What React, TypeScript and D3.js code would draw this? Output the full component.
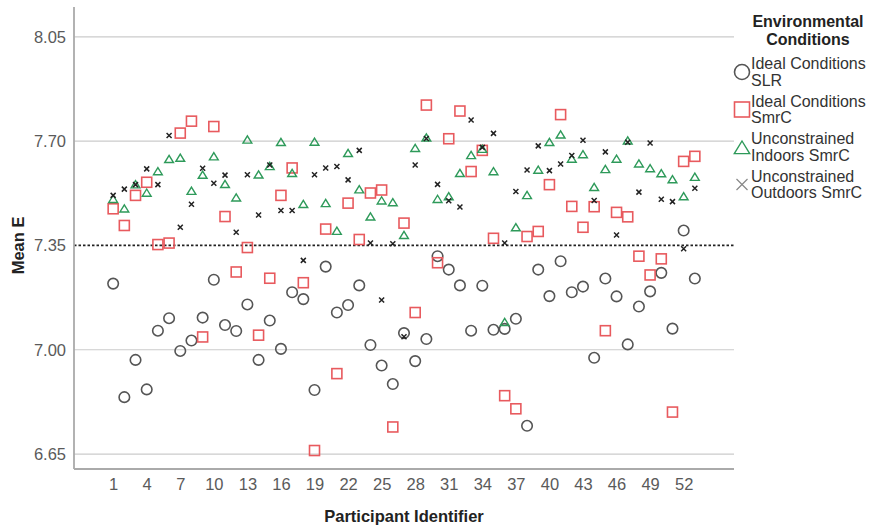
import React, { useEffect, useRef } from "react";
import * as d3 from "d3";

const participants = d3.range(1, 54);
const xTickLabels = [1, 4, 7, 10, 13, 16, 19, 22, 25, 28, 31, 34, 37, 40, 43, 46, 49, 52];
const yTickLabels = [6.65, 7.0, 7.35, 7.7, 8.05];
const referenceLine = 7.35;

const idealSLR = [
  7.222, 6.841, 6.966, 6.867, 7.064, 7.106, 6.996, 7.031, 7.108, 7.235,
  7.083, 7.063, 7.152, 6.966, 7.098, 7.003, 7.193, 7.17, 6.865, 7.279,
  7.125, 7.15, 7.216, 7.016, 6.947, 6.885, 7.056, 6.962, 7.036, 7.314,
  7.269, 7.216, 7.064, 7.215, 7.067, 7.07, 7.104, 6.745, 7.269, 7.18,
  7.297, 7.193, 7.212, 6.973, 7.239, 7.179, 7.018, 7.145, 7.196, 7.258,
  7.071, 7.4, 7.239,
];

const idealSmrC = [
  7.473, 7.417, 7.518, 7.562, 7.353, 7.358, 7.727, 7.767, 7.043, 7.749,
  7.447, 7.261, 7.343, 7.049, 7.24, 7.518, 7.61, 7.225, 6.662, 7.405,
  6.92, 7.492, 7.37, 7.526, 7.536, 6.741, 7.425, 7.125, 7.821, 7.292,
  7.708, 7.801, 7.598, 7.669, 7.374, 6.846, 6.802, 7.38, 7.397, 7.554,
  7.789, 7.481, 7.411, 7.48, 7.064, 7.461, 7.446, 7.314, 7.251, 7.305,
  6.791, 7.632, 7.649,
];

const indoorsSmrC = [
  7.505, 7.473, 7.554, 7.526, 7.598, 7.639, 7.643, 7.532, 7.586, 7.648,
  7.555, 7.51, 7.704, 7.587, 7.615, 7.696, 7.592, 7.488, 7.697, 7.491,
  7.398, 7.659, 7.537, 7.446, 7.5, 7.494, 7.384, 7.676, 7.711, 7.505,
  7.514, 7.592, 7.652, 7.673, 7.598, 7.092, 7.41, 7.518, 7.603, 7.696,
  7.721, 7.64, 7.655, 7.545, 7.605, 7.64, 7.701, 7.624, 7.608, 7.591,
  7.571, 7.514, 7.579,
];

const outdoorsSmrC = [
  7.518, 7.539, 7.554, 7.607, 7.554, 7.719, 7.411, 7.488, 7.609, 7.559,
  7.586, 7.394, 7.587, 7.452, 7.62, 7.467, 7.467, 7.3, 7.587, 7.61,
  7.615, 7.57, 7.669, 7.358, 7.167, 7.356, 7.044, 7.62, 7.709, 7.555,
  7.5, 7.479, 7.771, 7.679, 7.726, 7.358, 7.531, 7.603, 7.684, 7.601,
  7.623, 7.652, 7.703, 7.501, 7.664, 7.385, 7.696, 7.529, 7.694, 7.505,
  7.497, 7.339, 7.542,
];

const seriesNames = [
  ["Ideal Conditions", "SLR"],
  ["Ideal Conditions", "SmrC"],
  ["Unconstrained", "Indoors SmrC"],
  ["Unconstrained", "Outdoors SmrC"],
];

const FONT = "'Liberation Sans', Arial, sans-serif";
const W = 880;
const H = 530;
const left = 74;
const right = 734;
const top = 7;
const bottom = 469;

const drawMarker = (g, kind, size) => {
  if (kind === 0) {
    g.append("circle").attr("r", size / 2).attr("fill", "none").attr("stroke", "#555").attr("stroke-width", 1.6);
  } else if (kind === 1) {
    g.append("rect")
      .attr("x", -size / 2).attr("y", -size / 2)
      .attr("width", size).attr("height", size)
      .attr("fill", "none").attr("stroke", "#e85a5e").attr("stroke-width", 1.6);
  } else if (kind === 2) {
    const s = size / 2;
    g.append("path")
      .attr("d", `M0,${-s}L${s * 1.1},${s * 0.8}L${-s * 1.1},${s * 0.8}Z`)
      .attr("fill", "none").attr("stroke", "#2e9a5a").attr("stroke-width", 1.4);
  } else {
    const s = size / 2;
    g.append("path")
      .attr("d", `M${-s},${-s}L${s},${s}M${-s},${s}L${s},${-s}`)
      .attr("stroke", size > 8 ? "#888" : "#222").attr("stroke-width", size > 8 ? 1.2 : 1.5);
  }
};

const App = () => {
  const svgRef = useRef(null);

  useEffect(() => {
    document.body.style.margin = "0";
    const svg = d3.select(svgRef.current);
    svg.selectAll("*").remove();

    const x = d3.scaleLinear().domain([-2.5, 56.5]).range([left, right]);
    const y = d3.scaleLinear().domain([6.6, 8.15]).range([bottom, top]);

    // grid
    svg.append("g")
      .selectAll("line")
      .data(yTickLabels)
      .join("line")
      .attr("x1", left).attr("x2", right)
      .attr("y1", (d) => y(d)).attr("y2", (d) => y(d))
      .attr("stroke", (d) => (d === referenceLine ? "none" : "#cbcbcb"))
      .attr("stroke-width", 1.2);

    // reference line
    svg.append("line")
      .attr("x1", left).attr("x2", right)
      .attr("y1", y(referenceLine)).attr("y2", y(referenceLine))
      .attr("stroke", "#222").attr("stroke-width", 1.8)
      .attr("stroke-dasharray", "2.5,2");

    // axes
    const yAxis = d3.axisLeft(y).tickValues(yTickLabels).tickFormat(d3.format(".2f")).tickSize(0).tickPadding(8);
    const gy = svg.append("g").attr("transform", `translate(${left},0)`).call(yAxis);
    const xAxis = d3.axisBottom(x).tickValues(xTickLabels).tickSize(0).tickPadding(9);
    const gx = svg.append("g").attr("transform", `translate(0,${bottom})`).call(xAxis);
    gx.select(".domain").attr("d", `M${left},0H${right}`);
    gy.select(".domain").attr("d", `M0,${top}V${bottom}`);
    [gx, gy].forEach((g) => {
      g.select(".domain").attr("stroke", "#aaa").attr("stroke-width", 1.8);
      g.selectAll("text").attr("fill", "#5a5a5a").style("font-family", FONT).style("font-size", "16.5px");
    });

    // points
    const allSeries = [idealSLR, idealSmrC, indoorsSmrC, outdoorsSmrC];
    const sizes = [10.5, 10, 8, 5];
    allSeries.forEach((values, k) => {
      svg.append("g")
        .selectAll("g")
        .data(values)
        .join("g")
        .attr("transform", (d, i) => `translate(${x(participants[i])},${y(d)})`)
        .each(function () {
          drawMarker(d3.select(this), k, sizes[k]);
        });
    });

    // axis titles
    svg.append("text")
      .attr("transform", `translate(24,${y(7.35)}) rotate(-90)`)
      .attr("text-anchor", "middle")
      .style("font-family", FONT).style("font-size", "16.5px").style("font-weight", "bold")
      .attr("fill", "#222")
      .text("Mean E");
    svg.append("text")
      .attr("x", (left + right) / 2).attr("y", 522)
      .attr("text-anchor", "middle")
      .style("font-family", FONT).style("font-size", "16.5px").style("font-weight", "bold")
      .attr("fill", "#222")
      .text("Participant Identifier");

    // legend
    const lg = svg.append("g");
    ["Environmental", "Conditions"].forEach((t, i) => {
      lg.append("text")
        .attr("x", 808).attr("y", 27 + i * 18)
        .attr("text-anchor", "middle")
        .style("font-family", FONT).style("font-size", "16px").style("font-weight", "bold")
        .attr("fill", "#222")
        .text(t);
    });
    seriesNames.forEach((lines, k) => {
      const cy = 72 + k * 37.5;
      const m = lg.append("g").attr("transform", `translate(742,${cy + (k === 2 ? 1 : 0)})`);
      drawMarker(m, k, k === 2 ? 14 : k === 3 ? 11 : 15);
      lines.forEach((t, j) => {
        lg.append("text")
          .attr("x", 751).attr("y", cy - 3 + j * 16.5)
          .style("font-family", FONT).style("font-size", "16px")
          .attr("fill", "#333")
          .text(t);
      });
    });
  }, []);

  return <svg ref={svgRef} width={W} height={H} style={{ display: "block" }} />;
};

export default App;
